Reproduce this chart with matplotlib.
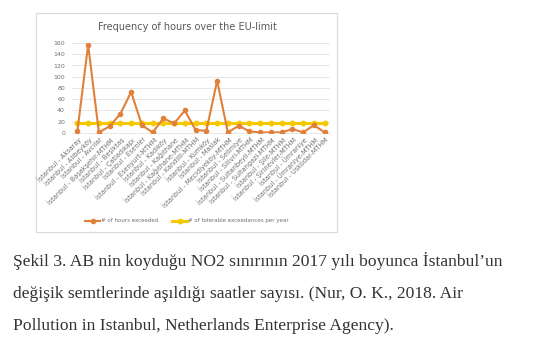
import matplotlib.pyplot as plt
from matplotlib.patches import Rectangle

stations = ["İstanbul - Aksaray", "İstanbul - Alibeyköy", "İstanbul - Avcılar",
            "İstanbul - Başakşehir-MTHM", "İstanbul - Beşiktaş", "İstanbul - Çatladıkapı",
            "İstanbul - Esenler", "İstanbul - Esenyurt-MTHM", "İstanbul - Kadıköy",
            "İstanbul - Kağıthane", "İstanbul - Kağıthane-MTHM", "İstanbul - Kandilli-MTHM",
            "İstanbul - Kumköy", "İstanbul - Maslak", "İstanbul - Mecidiyeköy-MTHM",
            "İstanbul - Selimiye", "İstanbul - Silivri-MTHM", "İstanbul - Sultanbeyli-MTHM",
            "İstanbul - Sultangazi-MTHM", "İstanbul - Şile-MTHM", "İstanbul - Şirinevler-MTHM",
            "İstanbul - Ümraniye", "İstanbul - Ümraniye-MTHM", "İstanbul - Üsküdar-MTHM"]
hours_exceeded = [3, 157, 1, 12, 34, 73, 14, 1, 26, 17, 40, 5,
                  4, 93, 1, 13, 3, 1, 1, 1, 7, 1, 14, 1]
tolerable = [18] * len(stations)
yticks = [0, 20, 40, 60, 80, 100, 120, 140, 160]

caption = ["Şekil 3. AB nin koyduğu NO2 sınırının 2017 yılı boyunca İstanbul’un",
           "değişik semtlerinde aşıldığı saatler sayısı. (Nur, O. K., 2018. Air",
           "Pollution in Istanbul, Netherlands Enterprise Agency)."]

W, H = 555, 355
fig = plt.figure(figsize=(W / 100, H / 100), dpi=100)
fig.patch.set_facecolor("white")

# chart frame, kept behind the axes
fig.patches.append(Rectangle((36 / W, 1 - 232 / H), (337 - 36) / W, (232 - 13) / H,
                             transform=fig.transFigure, fc="white", ec="#d9d9d9",
                             lw=0.8, zorder=-1))

ax = fig.add_axes([72 / W, 1 - 133 / H, (330 - 72) / W, (133 - 43) / H])
ax.patch.set_alpha(0)
x = list(range(len(stations)))
ax.plot(x, hours_exceeded, color="#e0803a", lw=1.5, marker="o", ms=3.0,
        label="# of hours exceeded", zorder=3)
ax.plot(x, tolerable, color="#f5c800", lw=2.2, marker="o", ms=3.2,
        label="# of tolerable exceedances per year", zorder=2)

ax.set_xlim(-0.5, len(stations) - 0.5)
ax.set_ylim(0, 160)
ax.set_yticks(yticks)
ax.set_xticks(x)
ax.set_xticklabels(stations, rotation=45, ha="right", rotation_mode="anchor",
                   fontsize=4.7, color="#707070")
ax.tick_params(axis="y", labelsize=4.5, labelcolor="#707070", length=0, pad=5)
ax.tick_params(axis="x", length=0, pad=2)
ax.grid(axis="y", color="#e3e3e3", lw=0.6)
ax.set_axisbelow(True)
for s in ax.spines.values():
    s.set_visible(False)
ax.spines["bottom"].set_visible(True)
ax.spines["bottom"].set_color("#e3e3e3")
ax.spines["bottom"].set_linewidth(0.6)

fig.text(187 / W, 1 - 27 / H, "Frequency of hours over the EU-limit", ha="center",
         va="center", fontsize=7, color="#595959")

fig.legend(loc="center", bbox_to_anchor=(187 / W, 1 - 221 / H), ncol=2, frameon=False,
           fontsize=4.0, labelcolor="#707070", handlelength=2.7, handletextpad=0.2,
           columnspacing=2.5, markerscale=1.0)

for i, line in enumerate(caption):
    fig.text(13 / W, 1 - (266 + 32 * i) / H, line, ha="left", va="baseline",
             fontsize=12.6, family="Liberation Serif", color="#333333")

fig.savefig("out.png", dpi=100)
